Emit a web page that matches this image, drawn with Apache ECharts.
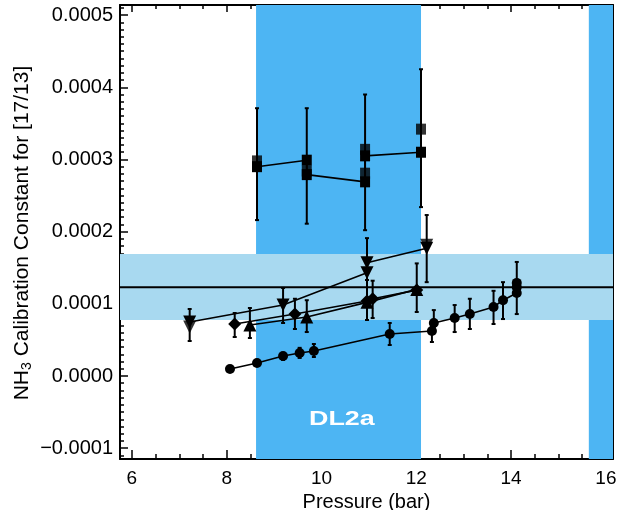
<!DOCTYPE html>
<html><head><meta charset="utf-8">
<script src="https://cdn.jsdelivr.net/npm/echarts@6/dist/echarts.min.js"></script>
<style>html,body{margin:0;padding:0;background:#fff}#c{width:619px;height:510px}</style>
</head><body><div id="c"></div>
<script>
// ---- data ----
const xMajor = [6, 8, 10, 12, 14, 16];
const yMajor = [-0.0001, 0, 0.0001, 0.0002, 0.0003, 0.0004, 0.0005];
const darkBands = [[8.62, 12.10], [15.64, 16.15]];
const refBand = [0.0000776, 0.000169];
const refLine = 0.000123;
const bandLabel = 'DL2a';
const bandLabelAt = [10.43, -0.0000600];

// squares
const sqLine = [[8.64,0.000290],[9.69,0.000299],[9.69,0.000279],[10.92,0.000269],[10.92,0.000305],[12.10,0.000310]];
const sqExtra = [[8.64,0.000298],[9.69,0.000284],[10.92,0.000281],[10.92,0.000314],[12.10,0.000342]];
const sqErr = [[8.64,0.000216,0.000371],[9.69,0.000211,0.000371],[10.92,0.000202,0.000390],[12.10,0.000234,0.000425]];
// downward triangles
const dnLine = [[7.22,0.0000748],[9.19,0.0000983],[10.96,0.000143],[10.96,0.000157],[12.22,0.000177]];
const dnExtra = [[7.22,0.0000679],[12.22,0.000181]];
const dnErr = [[7.22,0.0000485,0.0000928],[9.19,0.0000734,0.000122],[10.96,0.0000776,0.000191],[12.22,0.000130,0.000223]];
// diamonds
const dmLine = [[8.17,0.0000720],[9.44,0.0000859],[10.96,0.000104],[11.08,0.000107],[12.01,0.000119]];
const dmErr = [[8.17,0.0000540,0.0000873],[9.44,0.0000651,0.000107],[11.08,0.0000803,0.000132],[12.01,0.0000887,0.000156]];
// upward triangles
const upLine = [[8.49,0.0000706],[9.69,0.0000817],[10.96,0.000102],[12.01,0.000120]];
const upErr = [[8.49,0.0000526,0.0000942],[9.69,0.0000609,0.000105],[10.96,0.0000776,0.000133]];
// circles
const ciLine = [[8.07,0.0000097],[8.64,0.0000180],[9.19,0.0000277],[9.54,0.0000319],[9.84,0.0000346],[11.44,0.0000582],[12.33,0.0000623],[12.37,0.0000734],[12.81,0.0000803],[13.13,0.0000859],[13.63,0.0000956],[13.83,0.000105],[14.12,0.000115],[14.12,0.000123],[14.12,0.000129]];
const ciErr = [[9.19,0.0000222,0.0000319],[9.54,0.0000250,0.0000390],[9.84,0.0000263,0.0000443],[11.44,0.0000429,0.0000734],[12.33,0.0000471,0.0000679],[12.37,0.0000679,0.0000913],[12.81,0.0000609,0.0000983],[13.13,0.0000651,0.000107],[13.63,0.0000720,0.000118],[13.83,0.0000789,0.000130],[14.12,0.0000858,0.000158]];

// ---- chart ----
const X_MIN = 5.75, X_MAX = 16.15, Y_MIN = -0.000115, Y_MAX = 0.000514;
const xMinor = []; for (let v = 6; v <= 16.001; v += 0.5) xMinor.push(+v.toFixed(2));
const yMinor = []; for (let i = -11; i <= 51; i++) yMinor.push(+(i * 0.00001).toFixed(6));
const FONT = 'Liberation Sans';
const chart = echarts.init(document.getElementById('c'), null, {renderer: 'canvas'});

function xAx(pos, ticks, len, labels, showLine) {
  return {
    type: 'value', position: pos, min: X_MIN, max: X_MAX,
    axisLine: {show: showLine, onZero: false, lineStyle: {color: '#000', width: 2}},
    axisTick: {show: true, inside: true, length: len, customValues: ticks, lineStyle: {color: '#000', width: 1.5}},
    axisLabel: labels ? {show: true, customValues: ticks, color: '#000', fontFamily: FONT, fontSize: 19, margin: 10} : {show: false},
    splitLine: {show: false}
  };
}
function yAx(pos, ticks, len, labels, showLine) {
  return {
    type: 'value', position: pos, min: Y_MIN, max: Y_MAX,
    axisLine: {show: showLine, onZero: false, lineStyle: {color: '#000', width: 2}},
    axisTick: {show: true, inside: true, length: len, customValues: ticks, lineStyle: {color: '#000', width: 1.5}},
    axisLabel: labels ? {show: true, customValues: ticks, color: '#000', fontFamily: FONT, fontSize: 20, margin: 7,
      formatter: v => (v < 0 ? '\u2212' + Math.abs(v).toFixed(4) : v.toFixed(4))} : {show: false},
    splitLine: {show: false}
  };
}

const xAxes = [xAx('bottom', xMajor, 9, true, true), xAx('bottom', xMinor, 5, false, false),
               xAx('top', xMajor, 7, false, true), xAx('top', xMinor, 4, false, false)];
xAxes[0].name = 'Pressure (bar)';
xAxes[0].nameLocation = 'middle';
xAxes[0].nameGap = 28;
xAxes[0].nameTextStyle = {color: '#000', fontFamily: FONT, fontSize: 20};
const yAxes = [yAx('left', yMajor, 8, true, true), yAx('left', yMinor, 4, false, false),
               yAx('right', yMajor, 8, false, true), yAx('right', yMinor, 4, false, false)];

function errSeries(data) {
  return {
    type: 'custom', data: data, z: 5, silent: true,
    renderItem: function (params, api) {
      const x = api.value(0);
      const lo = api.coord([x, api.value(1)]);
      const hi = api.coord([x, api.value(2)]);
      const w = 2;
      const st = {stroke: '#000', lineWidth: 2};
      return {type: 'group', children: [
        {type: 'line', shape: {x1: lo[0], y1: lo[1], x2: hi[0], y2: hi[1]}, style: st},
        {type: 'line', shape: {x1: lo[0]-w, y1: lo[1], x2: lo[0]+w, y2: lo[1]}, style: st},
        {type: 'line', shape: {x1: hi[0]-w, y1: hi[1], x2: hi[0]+w, y2: hi[1]}, style: st}
      ]};
    }
  };
}
function lineSeries(data, symbol, size, rot) {
  return {type: 'line', data: data, symbol: symbol, symbolSize: size, symbolRotate: rot || 0, z: 6,
    showAllSymbol: true, animation: false,
    lineStyle: {color: '#000', width: 1.6}, itemStyle: {color: '#000'}};
}
function scatterSeries(data, symbol, size, rot) {
  return {type: 'scatter', data: data, symbol: symbol, symbolSize: size, symbolRotate: rot || 0, z: 6,
    itemStyle: {color: '#000'}};
}

const option = {
  animation: false,
  grid: {left: 120, right: 6, top: 5, bottom: 51, containLabel: false, outerBoundsMode: 'none'},
  xAxis: xAxes,
  yAxis: yAxes,
  series: [
    {type: 'line', data: [], z: 1, silent: true,
      markArea: {silent: true, itemStyle: {color: '#4db5f3'},
        data: darkBands.map(b => [{xAxis: b[0], yAxis: Y_MIN}, {xAxis: b[1], yAxis: Y_MAX}])}},
    {type: 'line', data: [], z: 2, silent: true,
      markArea: {silent: true, itemStyle: {color: '#a8d9f0'},
        data: [[{xAxis: X_MIN, yAxis: refBand[0]}, {xAxis: X_MAX, yAxis: refBand[1]}]]}},
    {type: 'line', data: [[X_MIN, refLine], [X_MAX, refLine]], z: 3, silent: true, symbol: 'none',
      lineStyle: {color: '#000', width: 2}},
    errSeries(sqErr), errSeries(dnErr), errSeries(dmErr), errSeries(upErr), errSeries(ciErr),
    lineSeries(sqLine, 'rect', [10, 11]), scatterSeries(sqExtra, 'rect', [10, 11]),
    lineSeries(dnLine, 'triangle', 13, 180), scatterSeries(dnExtra, 'triangle', 13, 180),
    lineSeries(dmLine, 'diamond', 13),
    lineSeries(upLine, 'triangle', 13),
    lineSeries(ciLine, 'circle', 10)
  ]
};
chart.setOption(option);

const lblPos = chart.convertToPixel({xAxisIndex: 0, yAxisIndex: 0}, bandLabelAt);
chart.setOption({
  graphic: [
    {type: 'text', x: lblPos[0], y: lblPos[1], z: 10, scaleX: 1.28,
      style: {text: bandLabel, fill: '#fff', font: 'bold 21px "Liberation Sans"', align: 'center', verticalAlign: 'middle'}},
    {type: 'text', x: 22, y: 233, rotation: Math.PI / 2, z: 10,
      style: {text: 'NH{s|3} Calibration Constant for [17/13]', fill: '#000', fontFamily: FONT, fontSize: 21,
        align: 'center', verticalAlign: 'middle',
        rich: {s: {fontSize: 14, fontFamily: FONT, fill: '#000', padding: [10, 0, 0, 0]}}}}
  ]
});
</script></body></html>
